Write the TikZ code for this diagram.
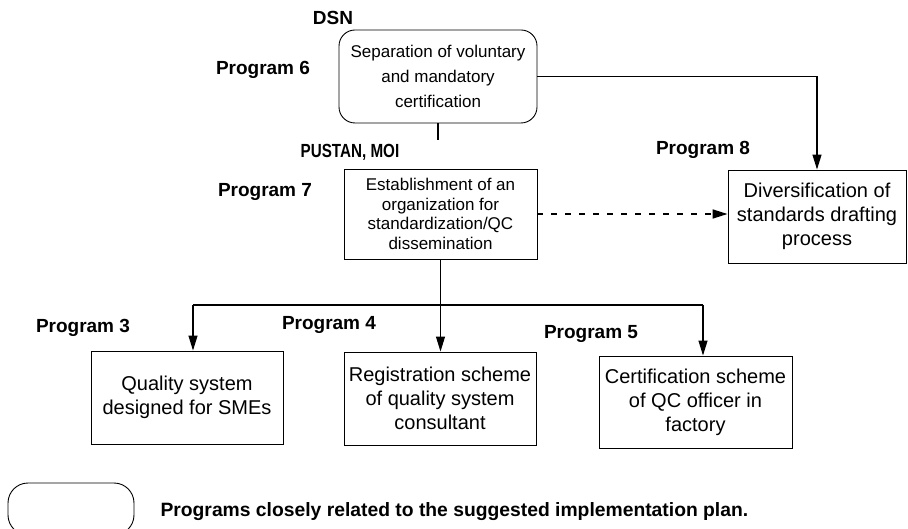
\documentclass[tikz,border=0pt]{standalone}
\usepackage{fontspec}
\setmainfont{Liberation Sans}
\newfontfamily\narrowsans[FakeStretch=0.8]{Liberation Sans}
\usetikzlibrary{arrows.meta}
\begin{document}
\begin{tikzpicture}[x=1pt,y=-1pt,
    progbox/.style={draw, line width=0.9pt, align=center, inner sep=0pt,
        font=\fontsize{20}{24}\selectfont},
    keybox/.style={progbox, rounded corners=16pt},
    proglabel/.style={font=\fontsize{19}{21}\selectfont\bfseries},
    flow/.style={line width=1.1pt, -{Triangle[length=15pt, width=9pt]}},
    link/.style={line width=1.1pt}]
\useasboundingbox (0,0) rectangle (908,529);

\node[keybox, minimum width=198pt, minimum height=93pt,
    font=\fontsize{17}{25}\selectfont] (p6) at (438,76.5)
    {Separation of voluntary\\and mandatory\\certification};
\node[progbox, minimum width=193pt, minimum height=90pt,
    font=\fontsize{17}{19.5}\selectfont] (p7) at (440.5,214)
    {Establishment of an\\organization for\\standardization/QC\\dissemination};
\node[progbox, minimum width=178pt, minimum height=93pt] (p8) at (817,216.5)
    {Diversification of\\standards drafting\\process};
\node[progbox, minimum width=192pt, minimum height=93pt] (p3) at (187,397.5)
    {Quality system\\designed for SMEs};
\node[progbox, minimum width=192pt, minimum height=93pt] (p4) at (440,398.5)
    {Registration scheme\\of quality system\\consultant};
\node[progbox, minimum width=193pt, minimum height=92pt] (p5) at (695.5,402)
    {Certification scheme\\of QC officer in\\factory};

\node[proglabel] (dsn) at (333,18) {DSN};
\node[proglabel, font=\fontsize{19}{21}\narrowsans\bfseries] (pustan) at (350,152) {PUSTAN, MOI};
\node[proglabel] (lbl6) at (263,70) {Program 6};
\node[proglabel] (lbl7) at (265,192) {Program 7};
\node[proglabel] (lbl8) at (703,150) {Program 8};
\node[proglabel] (lbl3) at (83,328) {Program 3};
\node[proglabel] (lbl4) at (329,325) {Program 4};
\node[proglabel] (lbl5) at (591,334) {Program 5};

\node[keybox, minimum width=126pt, minimum height=52pt, rounded corners=20pt] (key) at (71,509) {};
\node[anchor=west, font=\fontsize{19.3}{22}\selectfont\bfseries] (keytext) at (157,512)
    {Programs closely related to the suggested implementation plan.};

\coordinate (stub) at (438,140);
\coordinate (busl) at (193,305);
\coordinate (busr) at (703,305);

\draw[link] (p6.south) -- (stub);
\draw[flow] (p6.east) -| (p8.north);
\draw[flow, dash pattern=on 6pt off 8pt, line width=1.6pt] (p7.east) -- (p7.east -| p8.west);
\draw[link] (p7.south) -- (p7.south |- busl);
\draw[link] (busl) -- (busr);
\draw[flow] (busl) -- (busl |- p3.north);
\draw[flow] (p7.south |- busl) -- (p7.south |- p4.north);
\draw[flow] (busr) -- (busr |- p5.north);
\end{tikzpicture}
\end{document}
